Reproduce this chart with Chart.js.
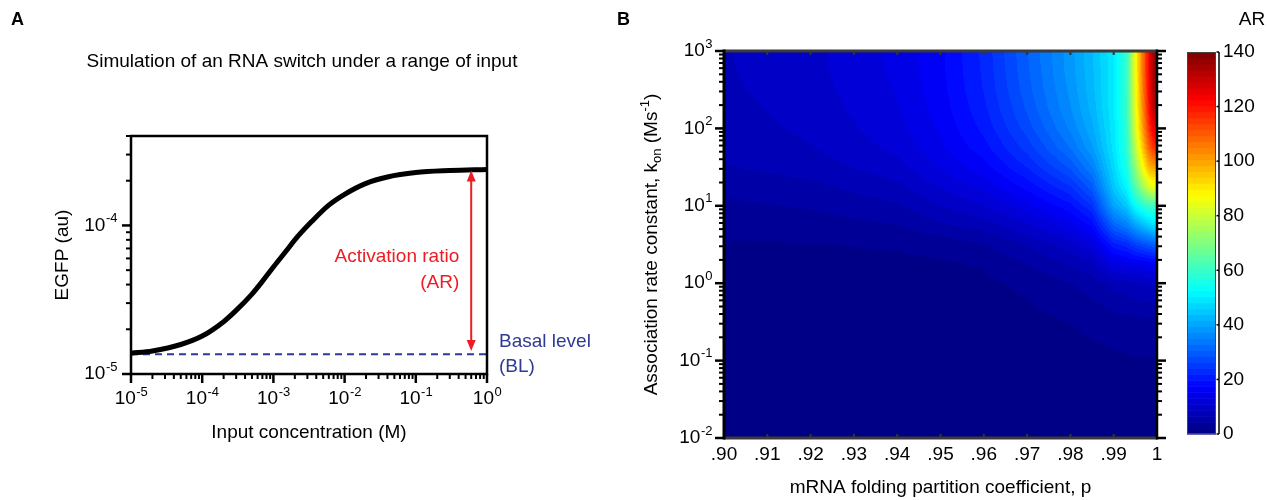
<!DOCTYPE html>
<html>
<head>
<meta charset="utf-8">
<script src="https://cdn.jsdelivr.net/npm/chart.js@4.4.0/dist/chart.umd.min.js"></script>
<style>
  html, body { margin: 0; padding: 0; background: #fff; }
  #wrap { position: relative; width: 1270px; height: 500px; }
  .panel { position: absolute; top: 0; height: 500px; }
  #panelA { left: 0; width: 600px; }
  #panelB { left: 600px; width: 580px; }
  #panelC { left: 1180px; width: 90px; }
</style>
</head>
<body>
<div id="wrap">
  <div class="panel" id="panelA"><canvas id="curveChart"></canvas></div>
  <div class="panel" id="panelB"><canvas id="heatChart"></canvas></div>
  <div class="panel" id="panelC"><canvas id="scaleChart"></canvas></div>
</div>
<script>
// ---- panel A: EGFP response vs input ----
const inputConc = [1e-5, 2e-5, 5e-5, 1e-4, 2e-4, 3e-4, 5e-4, 7e-4, 1e-3, 1.5e-3, 2e-3, 3.5e-3, 6e-3, 1e-2, 2e-2, 4e-2, 1e-1, 3e-1, 1];
const egfp = [1.38e-5, 1.43e-5, 1.58e-5, 1.8e-5, 2.25e-5, 2.68e-5, 3.45e-5, 4.2e-5, 5.25e-5, 6.7e-5, 8.0e-5, 1.07e-4, 1.37e-4, 1.62e-4, 1.92e-4, 2.12e-4, 2.27e-4, 2.34e-4, 2.38e-4];
const basalLevel = 1.36e-5;
const arrowX = 0.6;
const arrowTop = 2.34e-4;
const arrowBottom = 1.43e-5;
const titleA = 'Simulation of an RNA switch under a range of input';
const arText = ['Activation ratio', '(AR)'];
const blText = ['Basal level', '(BL)'];

// ---- panel B: AR over p and kon ----
const pValues = [0.90, 0.92, 0.94, 0.95, 0.96, 0.97, 0.98, 0.985, 0.99, 0.993, 0.995, 0.997, 0.998, 0.999, 1.0];
const konValues = [1000, 562, 316, 178, 100, 56.2, 31.6, 17.8, 10, 5.62, 3.16, 1.78, 1, 0.316, 0.1, 0.01];
// one list per p value, AR read down the kon values above
const arColumns = [
  [8.6, 8.5, 8.3, 8.0, 7.7, 7.2, 6.4, 5.0, 3.9, 2.9, 2.0, 1.6, 1.35, 1.15, 1.05, 1.0],
  [10.3, 10.2, 10.0, 9.6, 9.2, 8.6, 7.6, 6.0, 4.6, 3.3, 2.1, 1.65, 1.4, 1.15, 1.05, 1.0],
  [13.8, 13.6, 13.3, 12.9, 12.3, 11.5, 10.1, 8.2, 6.2, 4.3, 2.4, 1.8, 1.5, 1.2, 1.05, 1.0],
  [17.0, 16.9, 16.7, 16.3, 15.7, 14.9, 13.3, 11.2, 8.7, 6.2, 3.0, 1.9, 1.6, 1.25, 1.1, 1.0],
  [22.5, 22.3, 22.0, 21.3, 20.3, 18.8, 16.6, 13.8, 10.8, 7.6, 4.2, 2.4, 1.8, 1.4, 1.15, 1.0],
  [30.5, 30.2, 29.7, 28.8, 27.3, 25.0, 22.0, 18.3, 14.5, 10.6, 6.8, 4.4, 2.6, 1.6, 1.25, 1.0],
  [38.5, 38.3, 37.8, 37.0, 35.5, 33.0, 29.0, 24.0, 19.0, 14.5, 10.0, 6.8, 4.3, 2.2, 1.4, 1.0],
  [43.5, 43.3, 43.0, 42.3, 41.0, 39.0, 35.0, 30.0, 24.0, 18.0, 12.5, 8.3, 5.4, 2.7, 1.5, 1.0],
  [50, 50, 50, 50, 49.5, 49, 47.5, 45, 40, 31, 21, 13.5, 7.5, 3.2, 1.8, 1.0],
  [60, 60, 60, 59.5, 59, 58, 56, 52, 45, 35, 23, 14.5, 8, 3.5, 1.9, 1.0],
  [86, 86, 85, 84, 82, 78, 72, 64, 53, 40, 26, 15, 8.5, 3.7, 2, 1],
  [110, 110, 109, 107, 104, 98, 89, 76, 58, 44, 28, 15.5, 9, 3.8, 2, 1],
  [122, 122, 121, 119, 115, 108, 97, 82, 60, 46, 29, 16, 9, 3.9, 2, 1],
  [133, 133, 132, 130, 124, 115, 100, 85, 61, 48, 30, 16.5, 9.2, 3.9, 2, 1],
  [140, 140, 139, 136, 127, 118, 100, 83, 60, 49, 30, 15, 9, 3, 1.8, 1]
];
const pTicks = [0.90, 0.91, 0.92, 0.93, 0.94, 0.95, 0.96, 0.97, 0.98, 0.99, 1.0];
const pTickLabels = ['.90', '.91', '.92', '.93', '.94', '.95', '.96', '.97', '.98', '.99', '1'];
const arTicks = [0, 20, 40, 60, 80, 100, 120, 140];
const AR_MAX = 140;

const FONT = '"Liberation Sans", Arial, Helvetica, sans-serif';
const RED = '#ed1c24';
const NAVY = '#2e3a93';

function line(ctx, x1, y1, x2, y2) {
  ctx.beginPath();
  ctx.moveTo(x1, y1);
  ctx.lineTo(x2, y2);
  ctx.stroke();
}

// "10" with a raised exponent
function drawPow(ctx, base, exp, x, y, align) {
  ctx.font = '19px ' + FONT;
  const wb = ctx.measureText(base).width;
  ctx.font = '13px ' + FONT;
  const we = ctx.measureText(exp).width;
  let x0 = x;
  if (align === 'right') x0 = x - wb - we;
  if (align === 'center') x0 = x - (wb + we) / 2;
  ctx.textAlign = 'left';
  ctx.textBaseline = 'middle';
  ctx.font = '19px ' + FONT;
  ctx.fillText(base, x0, y);
  ctx.font = '13px ' + FONT;
  ctx.fillText(exp, x0 + wb + 0.5, y - 7);
}

// text made of normal / sub / sup runs, centred on (0,0) of current transform
function drawRich(ctx, parts) {
  const fontOf = p => (p.s ? '13px ' : '19px ') + FONT;
  let total = 0;
  parts.forEach(p => { ctx.font = fontOf(p); p.w = ctx.measureText(p.t).width; total += p.w; });
  let cx = -total / 2;
  ctx.textAlign = 'left';
  ctx.textBaseline = 'middle';
  parts.forEach(p => {
    ctx.font = fontOf(p);
    const dy = p.s === 'sub' ? 5 : p.s === 'sup' ? -7 : 0;
    ctx.fillText(p.t, cx, dy);
    cx += p.w;
  });
}

function logTicks(min, max) {
  const out = [];
  for (let e = Math.floor(Math.log10(min)); e <= Math.ceil(Math.log10(max)); e++) {
    for (let s = 1; s <= 9; s++) {
      const v = s * Math.pow(10, e);
      if (v >= min * 0.999 && v <= max * 1.001) out.push({ value: v, major: s === 1, exp: e });
    }
  }
  return out;
}

function jet(t) {
  const c = v => Math.round(255 * Math.max(0, Math.min(1, v)));
  return [c(Math.min(4 * t - 1.5, -4 * t + 4.5)), c(Math.min(4 * t - 0.5, -4 * t + 3.5)), c(Math.min(4 * t + 0.5, -4 * t + 2.5))];
}

function arColour(v) {
  const idx = Math.max(0, Math.min(63, Math.floor(v / AR_MAX * 64)));
  return jet((idx + 0.5) / 64);
}

// ---------- Panel A ----------
const axesA = {
  id: 'axesA',
  afterDraw(chart) {
    const { ctx, chartArea: a, scales: { x, y } } = chart;
    ctx.save();
    ctx.strokeStyle = '#000';
    ctx.fillStyle = '#000';
    ctx.lineWidth = 2.5;
    ctx.strokeRect(a.left, a.top, a.right - a.left, a.bottom - a.top);

    logTicks(x.min, x.max).forEach(t => {
      const px = x.getPixelForValue(t.value);
      ctx.lineWidth = t.major ? 2.5 : 2;
      line(ctx, px, a.bottom, px, a.bottom + (t.major ? 9 : 5));
      if (t.major) drawPow(ctx, '10', String(t.exp), px, a.bottom + 25, 'center');
    });
    logTicks(y.min, y.max).forEach(t => {
      const py = y.getPixelForValue(t.value);
      ctx.lineWidth = t.major ? 2.5 : 2;
      line(ctx, a.left, py, a.left - (t.major ? 9 : 5), py);
      if (t.major) drawPow(ctx, '10', String(t.exp), a.left - 14, py, 'right');
    });

    // titles
    ctx.font = '19px ' + FONT;
    ctx.textAlign = 'center';
    ctx.textBaseline = 'middle';
    ctx.fillText(titleA, 302, 62);
    ctx.fillText('Input concentration (M)', (a.left + a.right) / 2, a.bottom + 59);
    ctx.save();
    ctx.translate(63, (a.top + a.bottom) / 2);
    ctx.rotate(-Math.PI / 2);
    ctx.fillText('EGFP (au)', 0, 0);
    ctx.restore();

    // double arrow for the activation ratio
    const ax = x.getPixelForValue(arrowX);
    const yt = y.getPixelForValue(arrowTop);
    const yb = y.getPixelForValue(arrowBottom);
    ctx.strokeStyle = RED;
    ctx.fillStyle = RED;
    ctx.lineWidth = 2;
    line(ctx, ax, yt + 8, ax, yb - 8);
    ctx.beginPath();
    ctx.moveTo(ax, yt); ctx.lineTo(ax - 4.5, yt + 11); ctx.lineTo(ax + 4.5, yt + 11); ctx.closePath(); ctx.fill();
    ctx.beginPath();
    ctx.moveTo(ax, yb); ctx.lineTo(ax - 4.5, yb - 11); ctx.lineTo(ax + 4.5, yb - 11); ctx.closePath(); ctx.fill();

    ctx.font = '19px ' + FONT;
    ctx.textAlign = 'right';
    const mid = (yt + yb) / 2;
    ctx.fillText(arText[0], ax - 12, mid - 4);
    ctx.fillText(arText[1], ax - 12, mid + 22);

    const by = y.getPixelForValue(basalLevel);
    ctx.fillStyle = NAVY;
    ctx.textAlign = 'left';
    ctx.fillText(blText[0], a.right + 12, by - 12);
    ctx.fillText(blText[1], a.right + 12, by + 13);

    ctx.fillStyle = '#000';
    ctx.font = 'bold 18px ' + FONT;
    ctx.textAlign = 'left';
    ctx.fillText('A', 11, 20);
    ctx.restore();
  }
};

new Chart(document.getElementById('curveChart'), {
  type: 'line',
  data: {
    datasets: [
      {
        label: 'EGFP',
        data: inputConc.map((c, i) => ({ x: c, y: egfp[i] })),
        borderColor: '#000',
        borderWidth: 5,
        pointRadius: 0,
        cubicInterpolationMode: 'monotone',
        order: 0
      },
      {
        label: 'Basal level',
        data: [{ x: inputConc[0], y: basalLevel }, { x: inputConc[inputConc.length - 1], y: basalLevel }],
        borderColor: NAVY,
        borderWidth: 2,
        borderDash: [7, 5],
        pointRadius: 0,
        order: 1
      }
    ]
  },
  options: {
    responsive: true,
    maintainAspectRatio: false,
    animation: false,
    layout: { padding: { left: 131, right: 113, top: 136, bottom: 126 } },
    scales: {
      x: { type: 'logarithmic', min: 1e-5, max: 1, display: false },
      y: { type: 'logarithmic', min: 1e-5, max: 4e-4, display: false }
    },
    plugins: { legend: { display: false }, tooltip: { enabled: false } }
  },
  plugins: [axesA]
});

// ---------- Panel B ----------
const heatmap = {
  id: 'heatmap',
  beforeDatasetsDraw(chart) {
    const { ctx, chartArea: a, scales: { x, y } } = chart;
    const left = Math.round(a.left), top = Math.round(a.top);
    const w = Math.round(a.right) - left, h = Math.round(a.bottom) - top;
    const img = ctx.createImageData(w, h);
    const logK = konValues.map(k => Math.log10(k));
    for (let py = 0; py < h; py++) {
      const lk = Math.log10(y.getValueForPixel(top + py + 0.5));
      let j = 0;
      while (j < logK.length - 2 && lk < logK[j + 1]) j++;
      const fy = Math.max(0, Math.min(1, (logK[j] - lk) / (logK[j] - logK[j + 1])));
      for (let px = 0; px < w; px++) {
        const p = x.getValueForPixel(left + px + 0.5);
        let i = 0;
        while (i < pValues.length - 2 && p > pValues[i + 1]) i++;
        const fx = Math.max(0, Math.min(1, (p - pValues[i]) / (pValues[i + 1] - pValues[i])));
        const c0 = arColumns[i], c1 = arColumns[i + 1];
        const v = (1 - fx) * ((1 - fy) * c0[j] + fy * c0[j + 1]) + fx * ((1 - fy) * c1[j] + fy * c1[j + 1]);
        const rgb = arColour(v);
        const k = (py * w + px) * 4;
        img.data[k] = rgb[0];
        img.data[k + 1] = rgb[1];
        img.data[k + 2] = rgb[2];
        img.data[k + 3] = 255;
      }
    }
    ctx.putImageData(img, left, top);
  }
};

const axesB = {
  id: 'axesB',
  afterDraw(chart) {
    const { ctx, chartArea: a, scales: { x, y } } = chart;
    ctx.save();
    // x ticks, inward on top and bottom
    ctx.strokeStyle = '#333';
    ctx.lineWidth = 2;
    pTicks.forEach((p, i) => {
      const px = x.getPixelForValue(p);
      line(ctx, px, a.bottom, px, a.bottom - 4);
      line(ctx, px, a.top, px, a.top + 4);
      ctx.fillStyle = '#000';
      ctx.font = '19px ' + FONT;
      ctx.textAlign = 'center';
      ctx.textBaseline = 'middle';
      ctx.fillText(pTickLabels[i], px, a.bottom + 17);
    });
    ctx.strokeStyle = '#3a3a3a';
    ctx.lineWidth = 3;
    line(ctx, a.left, a.top, a.right, a.top);
    line(ctx, a.left, a.bottom, a.right, a.bottom);

    ctx.strokeStyle = '#000';
    ctx.lineWidth = 3;
    line(ctx, a.left, a.top - 1.5, a.left, a.bottom + 1.5);
    ctx.lineWidth = 2.5;
    line(ctx, a.right, a.top - 1.5, a.right, a.bottom + 1.5);

    ctx.fillStyle = '#000';
    logTicks(y.min, y.max).forEach(t => {
      const py = y.getPixelForValue(t.value);
      const len = t.major ? 9 : 5;
      ctx.lineWidth = t.major ? 2.5 : 2;
      line(ctx, a.left, py, a.left - len, py);
      line(ctx, a.right, py, a.right + len, py);
      if (t.major) drawPow(ctx, '10', String(t.exp), a.left - 12, py, 'right');
    });

    ctx.font = '19px ' + FONT;
    ctx.textAlign = 'center';
    ctx.textBaseline = 'middle';
    ctx.fillText('mRNA folding partition coefficient, p', (a.left + a.right) / 2, a.bottom + 50);

    ctx.save();
    ctx.translate(52, (a.top + a.bottom) / 2);
    ctx.rotate(-Math.PI / 2);
    drawRich(ctx, [
      { t: 'Association rate constant, k' },
      { t: 'on', s: 'sub' },
      { t: ' (Ms' },
      { t: '-1', s: 'sup' },
      { t: ')' }
    ]);
    ctx.restore();

    ctx.font = 'bold 18px ' + FONT;
    ctx.textAlign = 'left';
    ctx.fillText('B', 17, 20);
    ctx.restore();
  }
};

new Chart(document.getElementById('heatChart'), {
  type: 'scatter',
  data: {
    datasets: [{
      label: 'AR',
      data: pValues.flatMap((p, i) => konValues.map((k, j) => ({ x: p, y: k, v: arColumns[i][j] }))),
      pointRadius: 0
    }]
  },
  options: {
    responsive: true,
    maintainAspectRatio: false,
    animation: false,
    layout: { padding: { left: 124, right: 23, top: 51, bottom: 62 } },
    scales: {
      x: { type: 'linear', min: 0.9, max: 1.0, display: false },
      y: { type: 'logarithmic', min: 0.01, max: 1000, display: false }
    },
    plugins: { legend: { display: false }, tooltip: { enabled: false } }
  },
  plugins: [heatmap, axesB]
});

// ---------- colour bar ----------
const colourBar = {
  id: 'colourBar',
  afterDraw(chart) {
    const { ctx, chartArea: a, scales: { y } } = chart;
    ctx.save();
    for (let i = 0; i < 64; i++) {
      const y0 = y.getPixelForValue(i * AR_MAX / 64);
      const y1 = y.getPixelForValue((i + 1) * AR_MAX / 64);
      const c = jet((i + 0.5) / 64);
      ctx.fillStyle = `rgb(${c[0]},${c[1]},${c[2]})`;
      ctx.fillRect(a.left, y1, a.right - a.left, y0 - y1 + 0.6);
    }
    ctx.strokeStyle = '#444';
    ctx.lineWidth = 1;
    ctx.strokeRect(a.left + 0.5, a.top + 0.5, a.right - a.left - 1, a.bottom - a.top - 1);

    const axX = a.right + 3;
    ctx.strokeStyle = '#000';
    ctx.lineWidth = 1.5;
    line(ctx, axX, a.top, axX, a.bottom);
    ctx.fillStyle = '#000';
    ctx.font = '19px ' + FONT;
    ctx.textAlign = 'left';
    ctx.textBaseline = 'middle';
    arTicks.forEach(v => {
      const py = y.getPixelForValue(v);
      line(ctx, axX - 2.5, py, axX, py);
      ctx.fillText(String(v), axX + 4, py);
    });
    ctx.textAlign = 'center';
    ctx.fillText('AR', 72, 20);
    ctx.restore();
  }
};

new Chart(document.getElementById('scaleChart'), {
  type: 'scatter',
  data: { datasets: [{ label: 'AR', data: arTicks.map(v => ({ x: 0.5, y: v })), pointRadius: 0 }] },
  options: {
    responsive: true,
    maintainAspectRatio: false,
    animation: false,
    layout: { padding: { left: 7, right: 54, top: 52, bottom: 66 } },
    scales: {
      x: { type: 'linear', min: 0, max: 1, display: false },
      y: { type: 'linear', min: 0, max: AR_MAX, display: false }
    },
    plugins: { legend: { display: false }, tooltip: { enabled: false } }
  },
  plugins: [colourBar]
});
</script>
</body>
</html>
